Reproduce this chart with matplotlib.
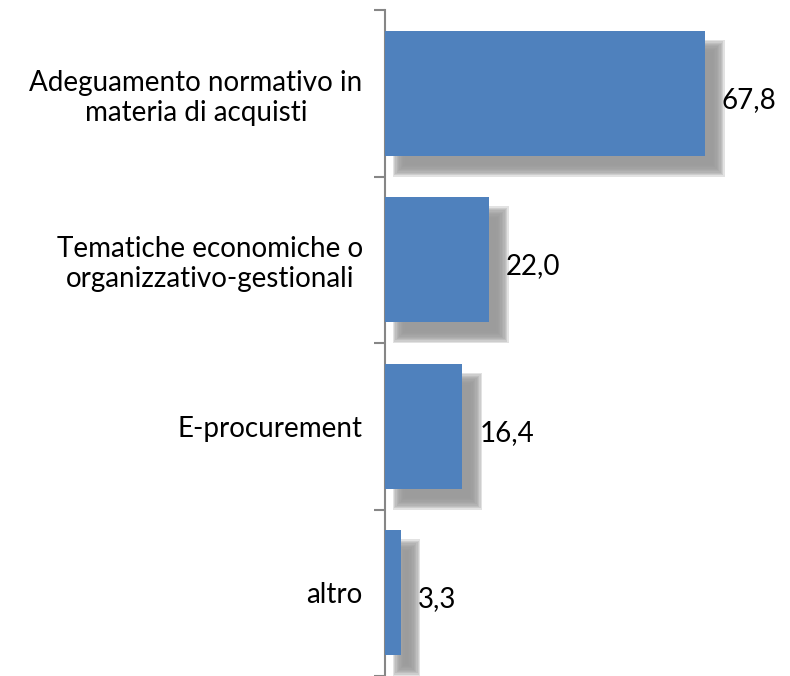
import numpy as np
import matplotlib.pyplot as plt

categories = ["Adeguamento normativo in\nmateria di acquisti",
              "Tematiche economiche o\norganizzativo-gestionali",
              "E-procurement",
              "altro"]
values = [67.8, 22.0, 16.4, 3.3]
value_labels = ["67,8", "22,0", "16,4", "3,3"]

plt.rcParams['font.family'] = ['Lato', 'DejaVu Sans']

fig = plt.figure(figsize=(7.9, 6.76), dpi=100)
ax = fig.add_axes([0.4873, 0.0, 0.478, 0.9852])

y = np.arange(len(values))
vals = np.array(values)
h = 0.75
bar_color = "#4f81bd"

# soft drop shadow, offset right/down, faked blur with stacked layers
dx, dy = 2.9, 0.09
n = 10
rx, ry = 1.3, 0.035
for e in np.linspace(1, -1, n):
    ax.barh(y + dy, vals + 2 * e * rx, height=h + 2 * e * ry, left=dx - e * rx,
            color="#9a9a9a", alpha=0.28, edgecolor="none", zorder=1)
ax.barh(y, vals, height=h, color=bar_color, edgecolor="none", zorder=3)

for yi, v, lab in zip(y, vals, value_labels):
    ax.text(v + 3.6, yi + 0.04, lab, va="center", ha="left", fontsize=20, color="black")

ax.set_ylim(len(values) - 0.5, -0.5)
ax.set_xlim(0, 80)
ax.set_yticks(np.arange(len(values) + 1) - 0.5)
ax.set_yticklabels([])
ax.set_yticks(y, minor=True)
ax.set_yticklabels(categories, minor=True, fontsize=20, multialignment="center")
ax.tick_params(axis="y", which="minor", length=0, pad=16)
ax.tick_params(axis="y", which="major", length=8, width=1.5, color="#868686")
ax.set_xticks([])
for side in ["top", "right", "bottom"]:
    ax.spines[side].set_visible(False)
ax.spines["left"].set_color("#868686")
ax.spines["left"].set_linewidth(1.5)

fig.savefig("out.png", dpi=100)
